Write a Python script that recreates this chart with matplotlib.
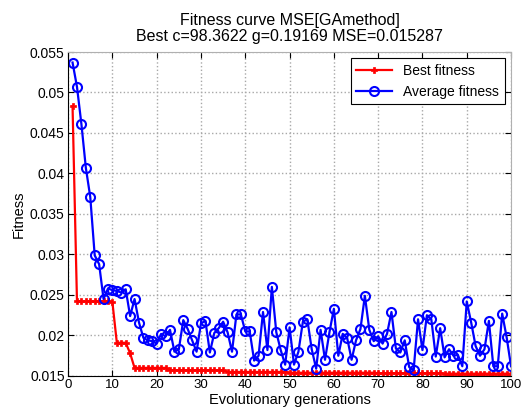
import matplotlib
matplotlib.use('Agg')
import matplotlib.pyplot as plt
from matplotlib.ticker import FuncFormatter

plt.rcParams['font.family'] = ['Liberation Sans', 'DejaVu Sans']

# 数据: 每代最优 / 平均适应度
generations = list(range(1, 101))

best_fitness = (
    [0.0483]
    + [0.0242] * 8 + [0.0241]
    + [0.0191] * 3 + [0.0178]
    + [0.0160] * 8
    + [0.0157] * 13
    + [0.0155] * 14
    + [0.0154] * 20
    + [0.01535] * 15
    + [0.015287] * 16
)

avg_fitness = [
    0.0537, 0.0507, 0.0461, 0.0407, 0.0371, 0.0299, 0.0288, 0.0245, 0.0258, 0.0256,
    0.0255, 0.0253, 0.0257, 0.0224, 0.0245, 0.0216, 0.0197, 0.0194, 0.0193, 0.0190,
    0.0202, 0.0199, 0.0207, 0.0180, 0.0183, 0.0219, 0.0208, 0.0194, 0.0180, 0.0215,
    0.0218, 0.0179, 0.0203, 0.0209, 0.0217, 0.0204, 0.0180, 0.0226, 0.0226, 0.0205,
    0.0205, 0.0169, 0.0175, 0.0229, 0.0182, 0.0260, 0.0204, 0.0182, 0.0164, 0.0210,
    0.0164, 0.0180, 0.0217, 0.0220, 0.0183, 0.0159, 0.0207, 0.0170, 0.0204, 0.0233,
    0.0175, 0.0202, 0.0197, 0.0170, 0.0194, 0.0208, 0.0249, 0.0207, 0.0193, 0.0199,
    0.0190, 0.0202, 0.0229, 0.0184, 0.0179, 0.0194, 0.0161, 0.0157, 0.0220, 0.0182,
    0.0225, 0.0220, 0.0174, 0.0209, 0.0173, 0.0183, 0.0175, 0.0176, 0.0162, 0.0242,
    0.0216, 0.0187, 0.0175, 0.0183, 0.0218, 0.0162, 0.0162, 0.0227, 0.0198, 0.0162,
]

x_ticks = list(range(0, 101, 10))
y_ticks = [0.015, 0.02, 0.025, 0.03, 0.035, 0.04, 0.045, 0.05, 0.055]

fig = plt.figure(figsize=(5.22, 4.16), dpi=100)
ax = fig.add_axes([0.1305, 0.0962, 0.8485, 0.7788])

ax.plot(generations, best_fitness, color='red', linewidth=1.6,
        marker='P', markersize=5, markeredgewidth=0.5, label='Best fitness')
ax.plot(generations, avg_fitness, color='blue', linewidth=1.6,
        marker='o', markersize=6.5, markerfacecolor='none',
        markeredgewidth=1.5, label='Average fitness')

ax.set_xlim(0, 100)
ax.set_ylim(0.015, 0.055)
ax.set_xticks(x_ticks)
ax.set_yticks(y_ticks)
ax.yaxis.set_major_formatter(FuncFormatter(lambda v, p: f'{v:g}'))
ax.tick_params(direction='in', top=True, right=True, labelsize=10, length=4, pad=2.5)
ax.tick_params(axis='x', labelsize=9.5)

ax.grid(True, color='#a8a8a8', linestyle=':', linewidth=1.0)
ax.set_axisbelow(True)
for side in ['top', 'right']:
    ax.spines[side].set_color('#b0b0b0')

ax.set_xlabel('Evolutionary generations', fontsize=10.5, labelpad=1)
ax.set_ylabel('Fitness', fontsize=10.5, labelpad=3)
ax.set_title('Fitness curve MSE[GAmethod]\nBest c=98.3622 g=0.19169 MSE=0.015287',
             fontsize=11.5, linespacing=1.05, pad=8)

leg = ax.legend(loc='upper right', fontsize=10, fancybox=False, framealpha=1,
                edgecolor='black', handlelength=2.6, borderpad=0.4,
                borderaxespad=0.45)
leg.get_frame().set_linewidth(0.8)

fig.savefig('out.png', dpi=100)
plt.close(fig)
